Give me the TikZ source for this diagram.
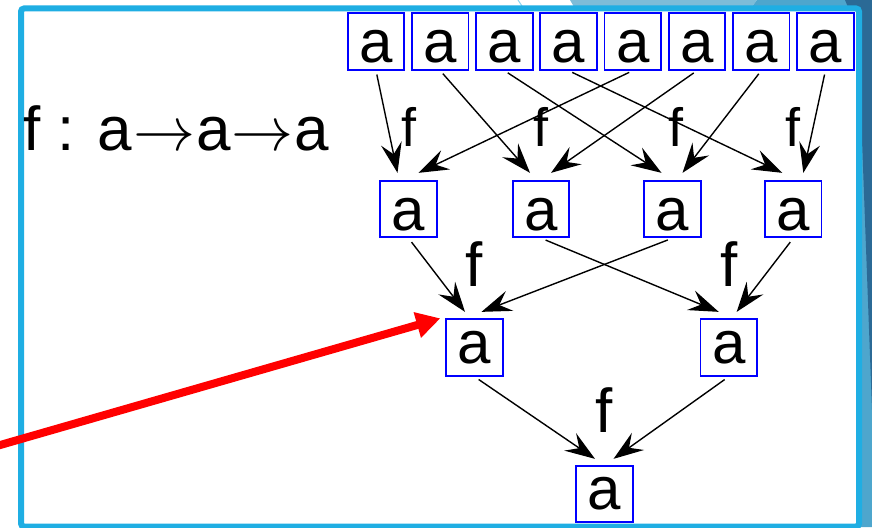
\RequirePackage{fix-cm}
\documentclass[tikz,border=0pt]{standalone}
\usepackage{fontspec}
\setmainfont{Liberation Sans}
\usetikzlibrary{calc}
\usetikzlibrary{arrows.meta, positioning}
\definecolor{framecyan}{RGB}{31,174,227}
\definecolor{decolight}{RGB}{125,188,216}
\definecolor{decomid}{RGB}{78,166,205}
\definecolor{decodark}{RGB}{43,106,150}
\newcommand{\maparrow}{\kern1pt$\rightarrow$\kern1pt}
\tikzset{
	abox/.style={draw=blue, line width=1.8pt, minimum width=56.5pt, minimum height=56.5pt, inner sep=0pt, text height=43pt, text depth=0pt, font=\fontsize{60}{60}\selectfont},
	fmap/.style={-{Stealth[length=30pt, width=21pt, inset=11pt]}, line width=1.4pt, shorten <=4pt},
	flab/.style={anchor=base, inner sep=0pt, font=\fontsize{#1}{#1}\selectfont},
	flab/.default=54,
}

\begin{document}
\begin{tikzpicture}[x=1pt, y=-1pt]
			\useasboundingbox (0, 0) rectangle (872, 527);
			\fill[decolight] (570, 0)--(757, 0)--(748, 12)--(577, 12)--cycle;
			\fill[decomid] (757, 0)--(872, 0)--(872, 527)--(855, 527)--(855, 12)--(748, 12)--cycle;
			\fill[decodark] (845, 0)--(872, 0)--(872, 410)--(862, 140)--(850, 12)--cycle;
			\draw[framecyan!50, line width=1pt] (518, 0)--(522, 6);
			\draw[framecyan, fill=white, line width=6pt, rounded corners=3pt] (21, 8.5) rectangle (859, 526.5);

			\node[flab=62, anchor=base west] (sig) at (23, 150) {f : a\maparrow a\maparrow a};

			\foreach \i in {1,...,8}
				\node[abox] (t\i) at ({376+64.2*(\i-1)}, 41.5) {a};
			\node[abox] (r1) at (408.5, 209) {a};
			\node[abox] (r2) at (541, 209) {a};
			\node[abox] (r3) at (672.5, 209) {a};
			\node[abox] (r4) at (793.3, 209) {a};
			\node[abox, text height=31pt] (s1) at (474.5, 347.5) {a};
			\node[abox, text height=31pt] (s2) at (728.7, 347.5) {a};
			\node[abox, text height=31pt] (b) at (604.5, 494) {a};

			\foreach \i in {1,...,4}
				\draw[fmap] (t\i.south)--([xshift=-11pt, yshift=7pt]r\i.north);
			\foreach \i/\j in {5/1, 6/2, 7/3, 8/4}
				\draw[fmap] (t\i.south)--([xshift=10pt, yshift=7pt]r\j.north);
			\draw[fmap, shorten <=5pt] (r1.south)--([xshift=-9.5pt, yshift=6.5pt]s1.north);
			\draw[fmap, shorten <=5pt] (r3.south)--([xshift=7pt, yshift=6.5pt]s1.north);
			\draw[fmap, shorten <=5pt] (r2.south)--([xshift=-10pt, yshift=6.5pt]s2.north);
			\draw[fmap, shorten <=5pt] (r4.south)--([xshift=8pt, yshift=6.5pt]s2.north);
			\draw[fmap, shorten <=5pt] (s1.south)--([xshift=-9.5pt, yshift=6pt]b.north);
			\draw[fmap, shorten <=5pt] (s2.south)--([xshift=9pt, yshift=6pt]b.north);

			\node[flab] (f1) at ([yshift=33pt]r1.north) {f};
			\node[flab] (f2) at ([yshift=33pt]r2.north) {f};
			\node[flab] (f3) at ([xshift=3pt, yshift=33pt]r3.north) {f};
			\node[flab] (f4) at ([yshift=33pt]r4.north) {f};
			\node[flab=62] (f5) at ([yshift=31.6pt]s1.north) {f};
			\node[flab=62] (f6) at ([yshift=31.6pt]s2.north) {f};
			\node[flab=62] (f7) at ([yshift=32.6pt]b.north) {f};

			\coordinate (redtail) at (-5, 446.5);
			\draw[red, line width=8pt, -{Triangle[length=24pt, width=25pt]}] (redtail)--([xshift=-5pt]s1.north west);
		\end{tikzpicture}
\end{document}
